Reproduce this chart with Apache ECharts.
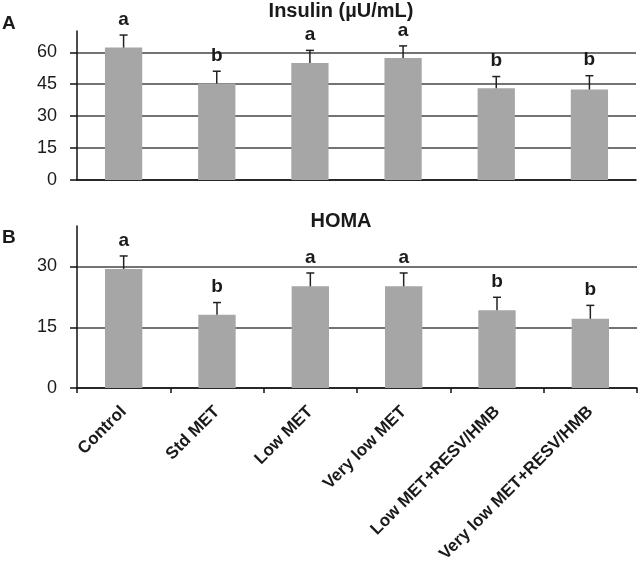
<!DOCTYPE html>
<html>
<head>
<meta charset="utf-8">
<script src="https://cdn.jsdelivr.net/npm/echarts@6/dist/echarts.min.js"></script>
<style>html,body{margin:0;padding:0;background:#fff}#c{width:639px;height:568px}</style>
</head>
<body>
<div id="c"></div>
<script>
const categories = ['Control', 'Std MET', 'Low MET', 'Very low MET', 'Low MET+RESV/HMB', 'Very low MET+RESV/HMB'];
const insulinMean = [62.2, 45.3, 55.0, 57.3, 43.1, 42.5];
const insulinSE = [5.9, 5.8, 5.9, 5.7, 5.5, 6.5];
const insulinLetters = ['a', 'b', 'a', 'a', 'b', 'b'];
const homaMean = [29.4, 18.1, 25.1, 25.1, 19.2, 17.1];
const homaSE = [3.2, 3.0, 3.3, 3.3, 3.2, 3.3];
const homaLetters = ['a', 'b', 'a', 'a', 'b', 'b'];
const insulinTicks = [0, 15, 30, 45, 60];
const homaTicks = [0, 15, 30];

const FONT = 'Arial, "Liberation Sans", sans-serif';
const TXT = '#1a1a1a';
const BAR = '#a6a6a6';
const GRIDC = '#444';

function errData(mean, se) {
  return mean.map((m, i) => [i, m, m + se[i]]);
}
function errRender(letters) {
  return function (params, api) {
    const x = api.value(0);
    const lo = api.coord([x, api.value(1)]);
    const hi = api.coord([x, api.value(2)]);
    const st = { stroke: '#222', lineWidth: 1.5 };
    return {
      type: 'group',
      children: [
        { type: 'line', shape: { x1: lo[0], y1: lo[1], x2: hi[0], y2: hi[1] }, style: st },
        { type: 'line', shape: { x1: hi[0] - 4, y1: hi[1], x2: hi[0] + 4, y2: hi[1] }, style: st },
        { type: 'text', x: hi[0], y: hi[1] - 6, style: { text: letters[params.dataIndex], textAlign: 'center', textVerticalAlign: 'bottom', font: 'bold 19px ' + FONT, fill: TXT } }
      ]
    };
  };
}
function yAxis(idx, max, ticks) {
  return {
    type: 'value', gridIndex: idx, min: 0, max: max, interval: 15,
    axisLine: { show: true, lineStyle: { color: '#111', width: 1.5 } },
    axisTick: { show: true, length: 7, customValues: ticks, lineStyle: { color: '#111', width: 1.5 } },
    axisLabel: { customValues: ticks, margin: 20, fontSize: 18, fontFamily: FONT, color: TXT },
    splitLine: { show: true, lineStyle: { color: GRIDC, width: 1.5 } }
  };
}

const chart = echarts.init(document.getElementById('c'), null, { renderer: 'canvas' });
chart.setOption({
  backgroundColor: '#fff',
  animation: false,
  title: [
    { text: 'Insulin (µU/mL)', left: 341, textAlign: 'center', top: 1, padding: 0, textStyle: { fontSize: 20, fontWeight: 'bold', fontFamily: FONT, color: TXT } },
    { text: 'HOMA', left: 341, textAlign: 'center', top: 211, padding: 0, textStyle: { fontSize: 20, fontWeight: 'bold', fontFamily: FONT, color: TXT } },
    { text: 'A', left: 2, top: 14, padding: 0, textStyle: { fontSize: 19, fontWeight: 'bold', fontFamily: FONT, color: TXT } },
    { text: 'B', left: 2, top: 228, padding: 0, textStyle: { fontSize: 19, fontWeight: 'bold', fontFamily: FONT, color: TXT } }
  ],
  grid: [
    { left: 77, right: 3, top: 31, height: 149, containLabel: false },
    { left: 77, right: 2, top: 226, height: 162, containLabel: false }
  ],
  xAxis: [
    {
      type: 'category', gridIndex: 0, data: categories,
      axisLine: { show: true, lineStyle: { color: '#111', width: 1.5 } },
      axisTick: { show: false }, axisLabel: { show: false }, splitLine: { show: false }
    },
    {
      type: 'category', gridIndex: 1, data: categories,
      axisLine: { show: true, lineStyle: { color: '#111', width: 1.5 } },
      axisTick: { show: true, length: 5, lineStyle: { color: '#111', width: 1.5 } },
      axisLabel: { interval: 0, rotate: 45, margin: 21, fontSize: 17, fontWeight: 'bold', fontFamily: FONT, color: TXT },
      splitLine: { show: false }
    }
  ],
  yAxis: [yAxis(0, 70, insulinTicks), yAxis(1, 40, homaTicks)],
  series: [
    { type: 'bar', xAxisIndex: 0, yAxisIndex: 0, data: insulinMean, barWidth: '40%', itemStyle: { color: BAR }, z: 2 },
    { type: 'custom', xAxisIndex: 0, yAxisIndex: 0, data: errData(insulinMean, insulinSE), renderItem: errRender(insulinLetters), encode: { x: 0, y: [1, 2] }, z: 3 },
    { type: 'bar', xAxisIndex: 1, yAxisIndex: 1, data: homaMean, barWidth: '40%', itemStyle: { color: BAR }, z: 2 },
    { type: 'custom', xAxisIndex: 1, yAxisIndex: 1, data: errData(homaMean, homaSE), renderItem: errRender(homaLetters), encode: { x: 0, y: [1, 2] }, z: 3 }
  ]
});
</script>
</body>
</html>
